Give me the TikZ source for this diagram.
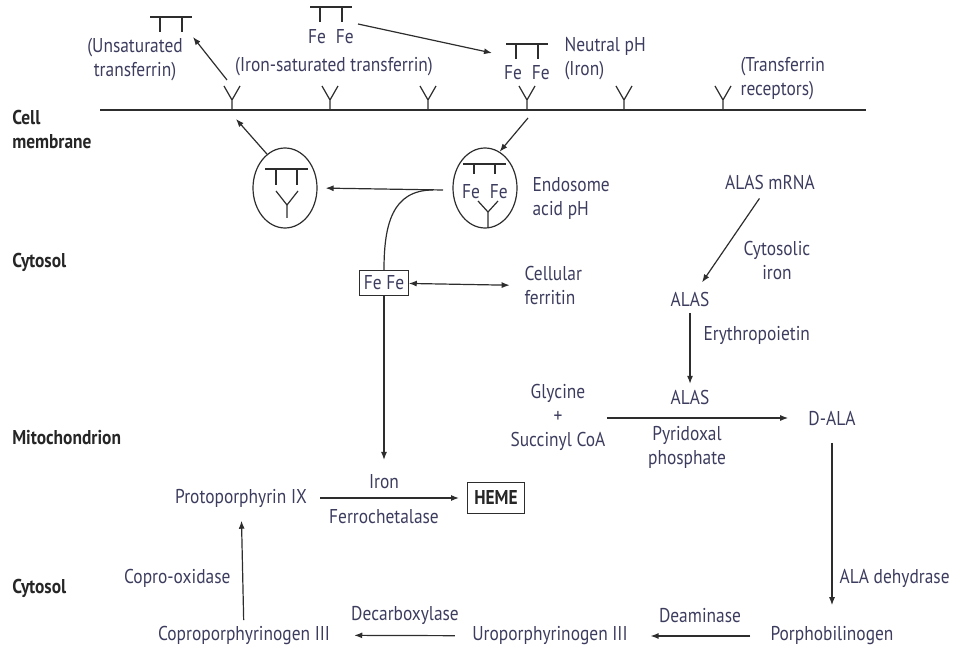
\documentclass[tikz,border=0pt]{standalone}
\usepackage{fontspec}
\setmainfont[FakeStretch=0.87]{PT Sans}
\usepackage{tikz}
\usetikzlibrary{arrows.meta,positioning,shapes.geometric}

\definecolor{inkline}{RGB}{45,45,45}
\definecolor{inktext}{RGB}{60,60,95}

\begin{document}
\begin{tikzpicture}[
  x=0.75pt, y=-0.75pt,
  font=\fontsize{15}{18}\selectfont,
  lbl/.style={text=inktext, inner sep=1pt, align=center},
  lbll/.style={lbl, anchor=west, align=left},
  region/.style={anchor=west, align=left, inner sep=0pt, text=black!85, font=\fontsize{15}{18}\selectfont\bfseries},
  sym/.style={draw=inkline, line width=0.9pt},
  flow/.style={-{Latex[length=6pt,width=4.5pt]}, draw=inkline, line width=0.9pt},
  both/.style={flow, {Latex[length=6pt,width=4.5pt]}-{Latex[length=6pt,width=4.5pt]}},
  box/.style={lbl, draw=inkline, line width=0.9pt, inner xsep=3pt, inner ysep=4pt},
  vesicle/.style={ellipse, draw=inkline, line width=0.9pt, minimum width=48pt, minimum height=60pt, inner sep=0pt},
  transf/.pic={\draw[sym] (-21,0) -- (21,0) (-11,0) -- (-11,15) (11,0) -- (11,15);},
  receptor/.pic={\draw[sym] (0,0) -- (0,-10) (-8,-24) -- (0,-10) -- (8,-24);},
]
\useasboundingbox (0,0) rectangle (957,655);

% compartments
\node[region] (membrane) at (12,130) {Cell\\membrane};
\node[region] (cytosolA) at (12,262) {Cytosol};
\node[region] (mito) at (12,438) {Mitochondrion};
\node[region] (cytosolB) at (12,588) {Cytosol};

% membrane and transferrin receptors
\draw[sym] (100,110) -- (866,110);
\foreach \x [count=\i] in {232,330,428,527,624,723} {
  \pic at (\x,110) {receptor};
  \coordinate (rec\i) at (\x,110);
}

% transferrin outside the cell
\pic at (171,17) {transf};
\node[lbl] (unsat) at (135,60) {(Unsaturated\\transferrin)};
\pic at (331,7) {transf};
\node[lbl] (satfe) at (331,37) {Fe\enspace Fe};
\node[lbl] (satlabel) at (334,67) {(Iron-saturated transferrin)};
\pic at (527,44) {transf};
\node[lbl] (neutfe) at (527,73) {Fe\enspace Fe};
\node[lbll] (neutral) at (563,59) {Neutral pH\\(Iron)};
\node[lbll] (receptors) at (739,79) {(Transferrin\\receptors)};

\coordinate (unsatfoot) at (227,80);
\coordinate (unsattip) at (193,37);
\coordinate (satfoot) at (358,24);
\coordinate (neuttip) at (492,53);
\coordinate (recin) at (528,118);
\coordinate (recout) at (236,119);
\draw[flow] (unsatfoot) -- (unsattip);
\draw[flow] (satfoot) -- (neuttip);

% endosomes
\node[vesicle] (endoL) at (285,188) {};
\node[vesicle] (endoR) at (485,188) {};
\draw[sym] (265,169) -- (308,169) (276,169) -- (276,185) (297,169) -- (297,185);
\draw[sym] (276,191) -- (287,205) -- (298,191) (287,205) -- (287,218);
\draw[sym] (463,164) -- (506,164) (474,164) -- (474,174) (495,164) -- (495,174);
\node[lbl] (endofe) at (485,192) {Fe\enspace Fe};
\draw[sym] (478,201) -- (488,212) -- (498,201) (488,212) -- (488,228);
\node[lbll] (endolabel) at (531,199) {Endosome\\acid pH};

\draw[flow] (recin) -- (endoR.68);
\draw[flow] (endoL.118) -- (recout);

% iron release
\coordinate (split) at (443,190);
\node[box] (febox) at (384,283) {Fe Fe};
\node[lbll] (ferritin) at (523,286) {Cellular\\ferritin};
\draw[flow, shorten >=6pt] (split) -- (endoL.east);
\draw[sym] (433,190) .. controls (392,190) and (384,225) .. (febox.north);
\draw[both, shorten >=10pt] (febox) -- (ferritin);

% ALAS regulation
\node[lbl] (mrna) at (770,183) {ALAS mRNA};
\node[lbl] (cytiron) at (777,261) {Cytosolic\\iron};
\node[lbl] (alasA) at (690,300) {ALAS};
\node[lbll] (epo) at (702,335) {Erythropoietin};
\node[lbl] (alasB) at (690,398) {ALAS};
\draw[flow, shorten <=6pt, shorten >=8pt] (mrna) -- (alasA);
\draw[flow, shorten <=3pt, shorten >=4pt] (alasA) -- (alasB);

% heme synthesis
\node[lbl] (glycine) at (558,417) {Glycine\\+\\Succinyl CoA};
\node[lbl] (pyridoxal) at (687,447) {Pyridoxal\\phosphate};
\node[lbl] (dala) at (832,418) {D-ALA};
\node[lbl] (porpho) at (832,636) {Porphobilinogen};
\node[lbll] (dehydrase) at (838,578) {ALA dehydrase};
\node[lbl] (uro) at (550,636) {Uroporphyrinogen III};
\node[lbl] (deaminase) at (700,616) {Deaminase};
\node[lbl] (copro) at (244,635) {Coproporphyrinogen III};
\node[lbl] (decarb) at (405,615) {Decarboxylase};
\node[lbl, anchor=east] (oxidase) at (232,578) {Copro-oxidase};
\node[lbl] (proto) at (241,498) {Protoporphyrin IX};
\node[lbl] (iron) at (384,482) {Iron};
\node[lbl] (ferro) at (384,517) {Ferrochetalase};
\node[box, text=black!85, inner xsep=5pt, inner ysep=6.5pt, font=\fontsize{15}{18}\selectfont\bfseries] (heme) at (496,498) {HEME};

\draw[flow, shorten >=14pt] (glycine.east |- dala) -- (dala);
\draw[flow, shorten <=12pt, shorten >=15pt] (dala) -- (porpho);
\draw[flow, shorten <=14pt, shorten >=16pt] (porpho) -- (uro);
\draw[flow, shorten <=12pt, shorten >=17pt] (uro) -- (copro);
\draw[flow, shorten <=3pt, shorten >=9pt] (copro) -- (proto);
\draw[flow, shorten <=9pt, shorten >=6pt] (proto) -- (heme);
\draw[flow, shorten >=10pt] (febox) -- (iron);

\end{tikzpicture}
\end{document}
